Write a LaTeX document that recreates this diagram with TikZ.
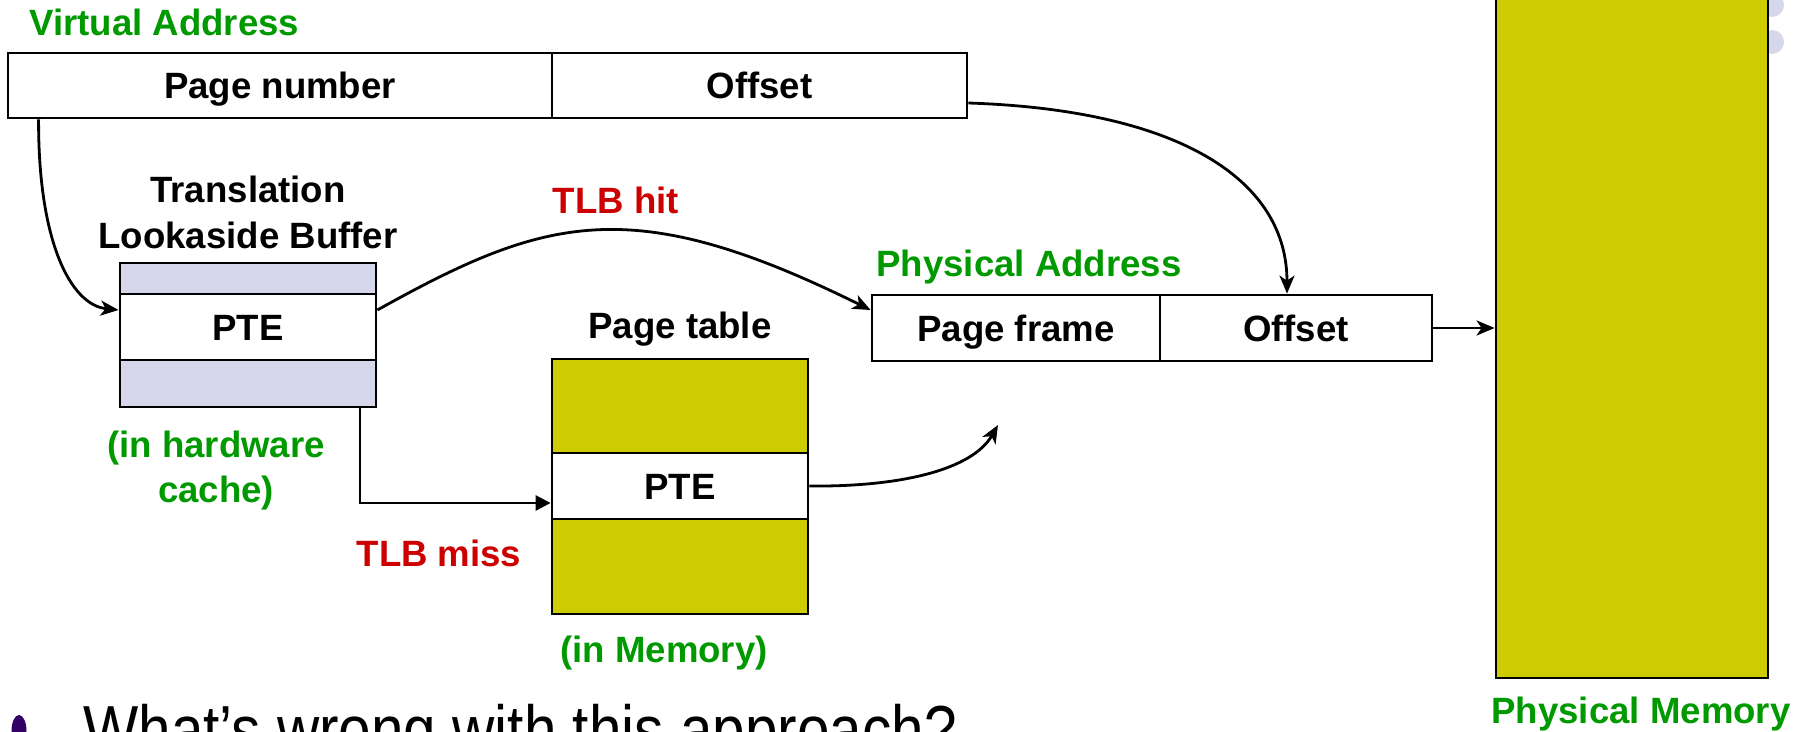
\documentclass[tikz,border=0pt]{standalone}
\usepackage{fontspec}
\setmainfont{Liberation Sans}
\usetikzlibrary{arrows.meta}
\definecolor{lblgreen}{HTML}{009900}
\definecolor{hitred}{HTML}{CC0000}
\definecolor{memfill}{HTML}{CCCC00}
\definecolor{lav}{HTML}{D7D7EB}
\definecolor{bulletcol}{HTML}{330066}

\begin{document}
\begin{tikzpicture}[x=0.5pt,y=-0.5pt,
  every node/.style={font=\fontsize{18.3pt}{23pt}\selectfont\bfseries, inner sep=0pt},
  cell/.style={draw, line width=1.4pt, fill=white, text height=13.1pt, text depth=0pt},
  lbl/.style={text=lblgreen},
  hit/.style={text=hitred},
  conn/.style={line width=1.4pt, -{Stealth[length=9pt,width=7.5pt,inset=2.5pt]}},
  missconn/.style={line width=1.4pt, -{Triangle[length=7.5pt,width=7.5pt]}}]

\useasboundingbox (0,0) rectangle (1808,732);
\clip (0,0) rectangle (1808,732);

% decorative circles behind the memory column
\fill[lav] (1772,5) circle (6pt);
\fill[lav] (1772,42) circle (6pt);

% physical memory
\node[cell, fill=memfill, minimum width=136pt, minimum height=349pt] (mem) at (1632,329) {};
\node[lbl, anchor=base] (memlbl) at (1641,723) {Physical Memory};

% virtual address
\node[lbl, anchor=base west] (valbl) at (29,36) {Virtual Address};
\node[cell, minimum width=272pt, minimum height=32.5pt] (pn) at (280,85.5) {Page number};
\node[cell, minimum width=207.5pt, minimum height=32.5pt] (voff) at (759.5,85.5) {Offset};

% translation lookaside buffer
\node[anchor=base] (tlblbl1) at (248,203) {Translation};
\node[anchor=base] (tlblbl2) at (248,249) {Lookaside Buffer};
\node[cell, fill=lav, minimum width=128pt, minimum height=15.5pt] (tlbtop) at (248,278.5) {};
\node[cell, minimum width=128pt, minimum height=33pt] (tlbmid) at (248,327) {PTE};
\node[cell, fill=lav, minimum width=128pt, minimum height=23.5pt] (tlbbot) at (248,383.5) {};
\node[lbl, anchor=base] (hw1) at (216,457) {(in hardware};
\node[lbl, anchor=base] (hw2) at (216,502) {cache)};

% page table
\node[anchor=base] (ptlbl) at (680,339) {Page table};
\node[cell, fill=memfill, minimum width=128pt, minimum height=47pt] (pttop) at (680,406) {};
\node[cell, minimum width=128pt, minimum height=33pt] (ptmid) at (680,486) {PTE};
\node[cell, fill=memfill, minimum width=128pt, minimum height=47.5pt] (ptbot) at (680,566.5) {};
\node[lbl, anchor=base] (inmem) at (664,662) {(in Memory)};

% physical address
\node[lbl, anchor=base] (palbl) at (1029,277) {Physical Address};
\node[cell, minimum width=144pt, minimum height=33pt] (pf) at (1016,328) {Page frame};
\node[cell, minimum width=136pt, minimum height=33pt] (poff) at (1296,328) {Offset};

% labels on the paths
\node[hit, anchor=base] (hitlbl) at (616,214) {TLB hit};
\node[hit, anchor=base] (misslbl) at (439,566) {TLB miss};

% connectors
\draw[conn] ([xshift=16pt]pn.south west) .. controls (38,240) and (70,305) .. ([yshift=8.5pt]tlbmid.west);
\draw[conn] ([yshift=-8.75pt]voff.east) .. controls (1180,110) and (1287,180) .. ([xshift=-4.5pt]poff.north);
\draw[conn] ([yshift=8.5pt]tlbmid.east) .. controls (546,216) and (632,192) .. ([yshift=9pt]pf.west);
\draw[missconn] ([xshift=56pt]tlbbot.south) |- ([yshift=-8.5pt]ptmid.west);
\coordinate (ptend) at (998,425);
\draw[conn] (ptmid.east) .. controls (900,487) and (972,470) .. (ptend);
\draw[conn] (poff.east) -- (poff.east -| mem.west);

% bullet line
\fill[bulletcol] (19,731) ellipse (3.75pt and 8pt);
\node[anchor=base west, font=\fontsize{34pt}{40pt}\selectfont\mdseries] (q) at (83,753)
  {\scalebox{0.86}[1]{What’s wrong with this approach?}};
\end{tikzpicture}
\end{document}
